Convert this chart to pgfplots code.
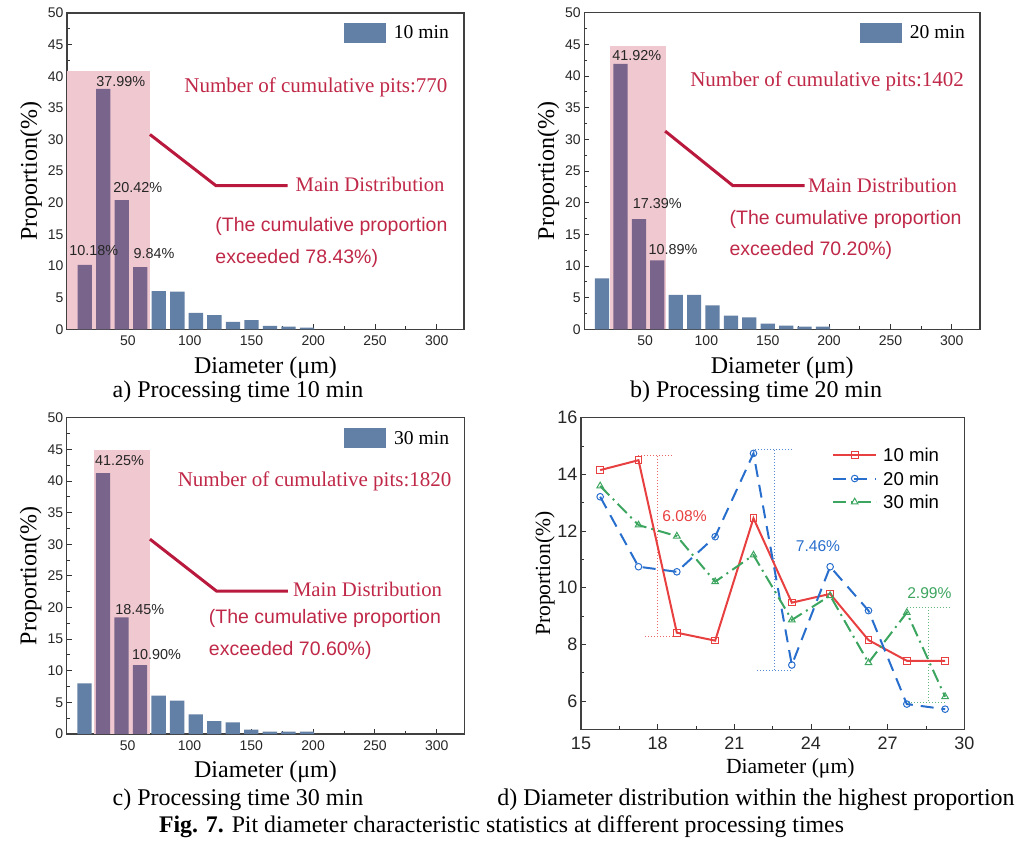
\documentclass[border=0pt]{standalone}
\usepackage{fontspec}
\setmainfont{Liberation Serif}
\setsansfont{Liberation Sans}
\usepackage{pgfplots}
\pgfplotsset{compat=1.18}
\usepackage{pgfplotstable}
\newcommand{\fs}[1]{\fontsize{#1}{#1}\selectfont}
\definecolor{barblue}{RGB}{98,127,165}
\definecolor{barpurple}{RGB}{121,101,140}
\definecolor{pinkc}{RGB}{240,200,208}
\definecolor{crimson}{RGB}{185,25,60}
\definecolor{crimsontext}{RGB}{192,40,72}
\definecolor{dred}{RGB}{232,64,64}
\definecolor{dblue}{RGB}{40,110,205}
\definecolor{dgreen}{RGB}{60,165,95}

\pgfplotstableread{
x y
15 10.18
30 37.99
45 20.42
60 9.84
}\dataAmain
\pgfplotstableread{
x y
75 6.05
90 5.95
105 2.58
120 2.26
135 1.16
150 1.47
165 0.53
180 0.42
195 0.26
}\dataArest
\pgfplotstableread{
x y
30 41.92
45 17.39
60 10.89
}\dataBmain
\pgfplotstableread{
x y
15 8.05
75 5.42
90 5.42
105 3.79
120 2.16
135 1.89
150 0.89
165 0.58
180 0.42
195 0.42
}\dataBrest
\pgfplotstableread{
x y
30 41.25
45 18.45
60 10.90
}\dataCmain
\pgfplotstableread{
x y
15 8.00
75 6.06
90 5.27
105 3.10
120 2.05
135 1.84
150 0.68
165 0.37
180 0.37
195 0.37
}\dataCrest
\pgfplotstableread{
x t10 t20 t30
15.75 14.15 13.21 13.59
17.25 14.50 10.74 12.21
18.75 8.41 10.56 11.82
20.25 8.13 11.80 10.21
21.75 12.45 14.74 11.15
23.25 9.47 7.27 8.86
24.75 9.78 10.74 9.72
26.25 8.15 9.19 7.35
27.75 7.42 5.89 9.12
29.25 7.42 5.71 6.15
}\dataD

\pgfplotsset{
  histo/.style={
    scale only axis,
    ymin=0, ymax=50,
    xtick={50,100,...,300},
    minor xtick={25,75,...,275},
    ytick={0,5,...,50},
    minor ytick={2.5,7.5,...,47.5},
    tick align=inside, xtick pos=bottom, ytick pos=left,
    major tick length=5pt, minor tick length=3pt,
    tick style={line width=0.9pt, black!80},
    tick label style={font=\sffamily\fs{14}, text=black!85},
    xticklabel style={yshift=-3pt},
    /pgf/number format/assume math mode=true,
    xlabel={Diameter (μm)}, ylabel={Proportion(\%)},
    label style={font=\fs{24}},
    xlabel style={at={(axis description cs:0.5,-0.12)}, anchor=center},
    ylabel style={at={(axis description cs:-0.0907,0.5)}, anchor=center},
    axis line style={line width=1.1pt, black!75},
    legend style={draw=none, fill=none, font=\fs{19.6}, anchor=east,
      nodes={inner sep=0pt}, /tikz/every odd column/.style={column sep=8pt}},
    clip=false,
  },
  mainbar/.style={ybar, bar width=11.6, bar shift=0pt, fill=barpurple, draw=none, forget plot},
  restbar/.style={ybar, bar width=11.6, bar shift=0pt, fill=barblue, draw=none,
    legend image code/.code={\fill[barblue] (0pt,-10pt) rectangle (42pt,10pt);}},
}
\tikzset{
  pctlab/.style={font=\sffamily\fs{14.4}, text=black!85, anchor=west, inner sep=0pt},
  ann/.style={text=crimsontext, inner sep=0pt},
}

\begin{document}
\begin{tikzpicture}
\useasboundingbox (0pt,0pt) rectangle (1026pt,-841pt);

% ---------- panel a ----------
\begin{axis}[histo, at={(67pt,-13pt)}, anchor=north west, width=397pt, height=316.3pt,
  xmin=0.65, xmax=322.1, legend style={at={(axis description cs:0.970,0.937)}}]
\addplot[fill=pinkc, draw=none, forget plot] coordinates {(0.65,40.8) (67.8,40.8)} \closedcycle;
\addplot[mainbar] table[x=x,y=y] {\dataAmain};
\addplot[restbar] table[x=x,y=y] {\dataArest};
\addlegendentry{10 min}
\addplot[crimson, line width=3pt, forget plot] coordinates {(67.8,30.8) (121.3,22.7) (179.3,22.7)};
\node[pctlab] at (axis cs:2.4,12.5) {10.18\%};
\node[pctlab] at (axis cs:24.3,39.2) {37.99\%};
\node[pctlab] at (axis cs:38,22.4) {20.42\%};
\node[pctlab] at (axis cs:54.5,11.9) {9.84\%};
\node[ann, anchor=east, font=\fs{21}] at (axis cs:308.8,38.2) {Number of cumulative pits:770};
\node[ann, anchor=west, font=\fs{20.7}] at (axis cs:185.6,22.9) {Main Distribution};
\node[ann, anchor=west, font=\sffamily\fs{19.5}] at (axis cs:120.7,16.2) {(The cumulative proportion};
\node[ann, anchor=west, font=\sffamily\fs{19.5}] at (axis cs:120.7,11.2) {exceeded 78.43\%)};
\end{axis}

% ---------- panel b ----------
\begin{axis}[histo, at={(584.3pt,-12.7pt)}, anchor=north west, width=395.7pt, height=316.6pt,
  xmin=0.5, xmax=323, legend style={at={(axis description cs:0.970,0.937)}}]
\addplot[fill=pinkc, draw=none, forget plot] coordinates {(21.8,44.7) (67.2,44.7)} \closedcycle;
\addplot[mainbar] table[x=x,y=y] {\dataBmain};
\addplot[restbar] table[x=x,y=y] {\dataBrest};
\addlegendentry{20 min}
\addplot[crimson, line width=3pt, forget plot] coordinates {(66.4,31.3) (121.5,22.7) (180,22.7)};
\node[pctlab] at (axis cs:23.2,43.3) {41.92\%};
\node[pctlab] at (axis cs:40,19.8) {17.39\%};
\node[pctlab] at (axis cs:52.8,12.6) {10.89\%};
\node[ann, anchor=east, font=\fs{21}] at (axis cs:310,39.1) {Number of cumulative pits:1402};
\node[ann, anchor=west, font=\fs{20.7}] at (axis cs:182.7,22.7) {Main Distribution};
\node[ann, anchor=west, font=\sffamily\fs{19.5}] at (axis cs:118.8,17.3) {(The cumulative proportion};
\node[ann, anchor=west, font=\sffamily\fs{19.5}] at (axis cs:118.8,12.4) {exceeded 70.20\%)};
\end{axis}

% ---------- panel c ----------
\begin{axis}[histo, at={(66.7pt,-417.7pt)}, anchor=north west, width=397.6pt, height=316.3pt,
  xmin=0.65, xmax=322.3, legend style={at={(axis description cs:0.970,0.935)}}]
\addplot[fill=pinkc, draw=none, forget plot] coordinates {(22.4,44.9) (68,44.9)} \closedcycle;
\addplot[mainbar] table[x=x,y=y] {\dataCmain};
\addplot[restbar] table[x=x,y=y] {\dataCrest};
\addlegendentry{30 min}
\addplot[crimson, line width=3pt, forget plot] coordinates {(68,30.8) (121.8,22.6) (179.6,22.6)};
\node[pctlab] at (axis cs:23.5,43.3) {41.25\%};
\node[pctlab] at (axis cs:39.9,19.7) {18.45\%};
\node[pctlab] at (axis cs:53.4,12.5) {10.90\%};
\node[ann, anchor=east, font=\fs{21}] at (axis cs:312,40) {Number of cumulative pits:1820};
\node[ann, anchor=west, font=\fs{20.7}] at (axis cs:183.6,22.8) {Main Distribution};
\node[ann, anchor=west, font=\sffamily\fs{19.5}] at (axis cs:115.6,18.2) {(The cumulative proportion};
\node[ann, anchor=west, font=\sffamily\fs{19.5}] at (axis cs:115.6,13.2) {exceeded 70.60\%)};
\end{axis}

% ---------- panel d ----------
\begin{axis}[scale only axis, at={(581pt,-417.7pt)}, anchor=north west, width=383.3pt, height=311.6pt,
  xmin=15, xmax=30, ymin=5, ymax=16,
  xtick={15,18,...,30}, minor xtick={16.5,19.5,...,28.5},
  ytick={6,8,...,16}, minor ytick={5,7,...,15},
  tick align=inside, xtick pos=bottom, ytick pos=left,
  major tick length=5pt, minor tick length=3pt,
  tick style={line width=0.9pt, black!80},
  tick label style={font=\sffamily\fs{18}, text=black!85},
  xticklabel style={yshift=-4pt},
  /pgf/number format/assume math mode=true,
  xlabel={Diameter (μm)}, ylabel={Proportion(\%)},
  label style={font=\fs{21.6}},
  xlabel style={at={(axis description cs:0.546,-0.125)}, anchor=center},
  ylabel style={at={(axis description cs:-0.094,0.5)}, anchor=center},
  axis line style={line width=1.1pt, black!75},
  legend style={draw=none, fill=none, font=\sffamily\fs{18.6}, at={(axis description cs:0.647,0.909)}, anchor=north west,
    nodes={inner sep=0pt, text height=13.5pt, text depth=0pt}, row sep=10pt,
    /tikz/every odd column/.style={column sep=6pt}},
  legend cell align=left,
  legend image code/.code={\draw[mark repeat=2, mark phase=2] plot coordinates {(0pt,0pt) (21.5pt,0pt) (43pt,0pt)};},
  clip=false]
\draw[dred!80, dotted, line width=1pt] (axis cs:17.24,14.65) -- (axis cs:18.6,14.65);
\draw[dred!80, dotted, line width=1pt] (axis cs:17.5,8.27) -- (axis cs:18.87,8.27);
\draw[dred!80, dotted, line width=1pt] (axis cs:18.0,14.65) -- (axis cs:18.0,8.27);
\draw[dblue!80, dotted, line width=1pt] (axis cs:21.8,14.86) -- (axis cs:23.24,14.86);
\draw[dblue!80, dotted, line width=1pt] (axis cs:21.9,7.09) -- (axis cs:23.3,7.09);
\draw[dblue!80, dotted, line width=1pt] (axis cs:22.56,14.86) -- (axis cs:22.56,7.09);
\draw[dgreen!80, dotted, line width=1pt] (axis cs:27.74,9.31) -- (axis cs:29.4,9.31);
\draw[dgreen!80, dotted, line width=1pt] (axis cs:27.8,5.94) -- (axis cs:29.24,5.94);
\draw[dgreen!80, dotted, line width=1pt] (axis cs:28.59,9.31) -- (axis cs:28.59,5.94);
\addplot[dred, line width=2pt, mark=square, mark size=3.3pt, mark options={solid, fill=white, line width=1pt}] table[x=x,y=t10] {\dataD};
\addlegendentry{10 min}
\addplot[dblue, line width=2pt, dash pattern=on 13pt off 8pt, mark=o, mark size=3.3pt, mark options={solid, fill=white, line width=1pt}] table[x=x,y=t20] {\dataD};
\addlegendentry{20 min}
\addplot[dgreen, line width=2pt, dash pattern=on 13pt off 5pt on 2pt off 5pt, mark=triangle, mark size=3.8pt, mark options={solid, fill=white, line width=1pt}] table[x=x,y=t30] {\dataD};
\addlegendentry{30 min}
\node[text=dred, font=\sffamily\fs{15.6}, anchor=west, inner sep=0pt] at (axis cs:18.18,12.54) {6.08\%};
\node[text=dblue, font=\sffamily\fs{15.6}, anchor=west, inner sep=0pt] at (axis cs:23.4,11.45) {7.46\%};
\node[text=dgreen, font=\sffamily\fs{15.6}, anchor=west, inner sep=0pt] at (axis cs:27.76,9.8) {2.99\%};
\end{axis}

% ---------- captions ----------
\node[anchor=base, font=\fs{24}, inner sep=0pt] at (238pt,-397pt) {a) Processing time 10 min};
\node[anchor=base, font=\fs{24}, inner sep=0pt] at (756pt,-397pt) {b) Processing time 20 min};
\node[anchor=base, font=\fs{24}, inner sep=0pt] at (238pt,-805pt) {c) Processing time 30 min};
\node[anchor=base, font=\fs{24}, inner sep=0pt] at (756pt,-805pt) {d) Diameter distribution within the highest proportion};
\node[anchor=base, font=\fs{23.8}, inner sep=0pt] at (501.5pt,-832pt) {\textbf{Fig. 7.} Pit diameter characteristic statistics at different processing times};
\end{tikzpicture}
\end{document}
